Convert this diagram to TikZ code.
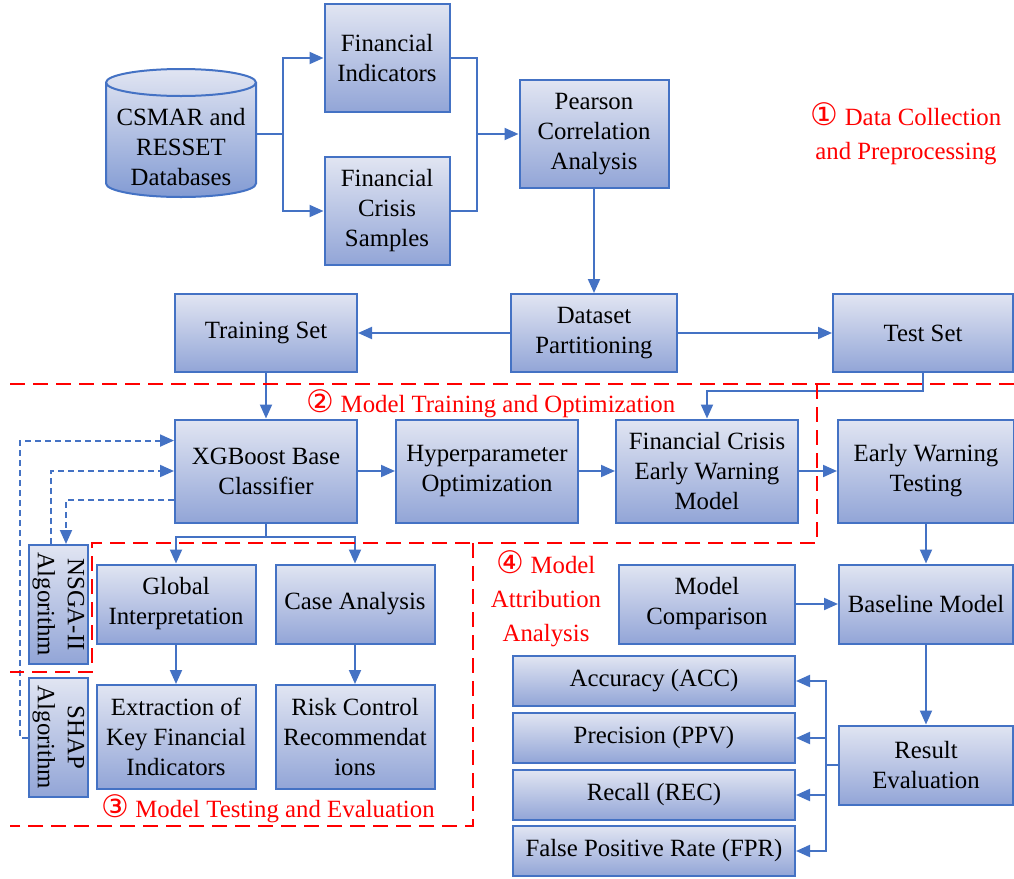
\documentclass[tikz,border=0pt]{standalone}
\usepackage{fontspec}
\setmainfont{Liberation Serif}
\newfontfamily\circfont{DejaVu Sans}
\usetikzlibrary{arrows.meta,calc,positioning}
\usetikzlibrary{shapes.geometric}
\definecolor{boxline}{HTML}{4472C4}
\definecolor{boxtop}{HTML}{E1E5F2}
\definecolor{boxbot}{HTML}{92A5D7}
\newcommand{\regnum}[1]{{\circfont\fontsize{15.5}{15}\selectfont #1}}
\tikzstyle{process} = [rectangle, align=center, draw=boxline, line width=1pt, top color=boxtop, bottom color=boxbot, inner sep=1pt, font=\fontsize{12.4}{15}\selectfont]
\tikzstyle{database} = [cylinder, shape border rotate=90, aspect=0.18, draw=boxline, line width=1pt, top color=boxtop, bottom color=boxbot!80!boxline, inner xsep=37.5pt, inner ysep=2pt]
\tikzstyle{vprocess} = [process, rotate=-90, minimum width=59.5pt, minimum height=29.5pt]
\tikzstyle{line} = [draw=boxline, line width=1pt]
\tikzstyle{arrow} = [line, -{Triangle[length=7pt,width=6pt]}]
\tikzstyle{dasharrow} = [arrow, dash pattern=on 3pt off 2pt]
\tikzstyle{region} = [draw=red, line width=1pt, dash pattern=on 7.5pt off 4pt]
\tikzstyle{regionlabel} = [text=red, align=center, font=\fontsize{12.4}{17}\selectfont]

\begin{document}
\begin{tikzpicture}[x=0.5pt, y=-0.5pt]
\useasboundingbox (0,0) rectangle (1014,879);
% data collection
\node (db) [database, minimum height=64pt,
  label={[align=center, font=\fontsize{12.4}{15}\selectfont]center:CSMAR and\\RESSET\\Databases}] at (181,147) {};
\node (fi) [process, minimum width=62.5pt, minimum height=54pt] at (387,58) {Financial\\Indicators};
\node (fcs) [process, minimum width=62.5pt, minimum height=54pt] at (387,211) {Financial\\Crisis\\Samples};
\node (pca) [process, minimum width=74.5pt, minimum height=54pt] at (594,134) {Pearson\\Correlation\\Analysis};
\node (dp) [process, minimum width=83pt, minimum height=39pt] at (594,333) {Dataset\\Partitioning};
\node (train) [process, minimum width=91pt, minimum height=39pt] at (266,333) {Training Set};
\node (test) [process, minimum width=90pt, minimum height=39pt] at (923,333) {Test Set};
% training and optimization
\node (xgb) [process, minimum width=91pt, minimum height=51.5pt] at (266,471) {XGBoost Base\\Classifier};
\node (hpo) [process, minimum width=91pt, minimum height=51.5pt] at (487,471) {Hyperparameter\\Optimization};
\node (fcew) [process, minimum width=91pt, minimum height=51.5pt] at (707,471) {Financial Crisis\\Early Warning\\Model};
\node (ewt) [process, minimum width=88pt, minimum height=51.5pt] at (926,471) {Early Warning\\Testing};
\node (nsga) [vprocess] at (58.5,604.5) {NSGA-II\\Algorithm};
\node (shap) [vprocess] at (58.5,737.5) {SHAP\\Algorithm};
% testing and attribution
\node (gi) [process, minimum width=79.5pt, minimum height=39.5pt] at (176,604) {Global\\Interpretation};
\node (ca) [process, minimum width=79.5pt, minimum height=39.5pt] at (355,604) {Case Analysis};
\node (ekfi) [process, minimum width=79.5pt, minimum height=52pt] at (176,737) {Extraction of\\Key Financial\\Indicators};
\node (rcr) [process, minimum width=79.5pt, minimum height=52pt] at (355,737) {Risk Control\\Recommendat\\ions};
\node (mc) [process, minimum width=88pt, minimum height=39.5pt] at (707,604) {Model\\Comparison};
\node (bm) [process, minimum width=87pt, minimum height=39.5pt] at (926,604) {Baseline Model};
\node (re) [process, minimum width=87pt, minimum height=39.5pt] at (926,765) {Result\\Evaluation};
\node (acc) [process, minimum width=141pt, minimum height=25pt] at (654,681) {Accuracy (ACC)};
\node (ppv) [process, minimum width=141pt, minimum height=25pt] at (654,738) {Precision (PPV)};
\node (rec) [process, minimum width=141pt, minimum height=25pt] at (654,795) {Recall (REC)};
\node (fpr) [process, minimum width=141pt, minimum height=25pt] at (654,851) {False Positive Rate (FPR)};
% region labels
\node (lab1) [regionlabel] at (906,134) {\regnum{①} Data Collection\\and Preprocessing};
\node (lab2) [regionlabel] at (491,404) {\regnum{②} Model Training and Optimization};
\node (lab3) [regionlabel] at (268,809) {\regnum{③} Model Testing and Evaluation};
\node (lab4) [regionlabel] at (546,599) {\regnum{④} Model\\Attribution\\Analysis};

\coordinate (split1) at (283,134);
\coordinate (merge1) at (477,134);
\coordinate (split2) at (266,537);
\coordinate (fork) at (826,765);

\draw [line] (split1 -| db.east) -- (split1);
\draw [arrow] (split1) |- (fi);
\draw [arrow] (split1) |- (fcs);
\draw [line] (fi.east) -| (merge1);
\draw [line] (fcs.east) -| (merge1);
\draw [arrow] (merge1) -- (pca);
\draw [arrow] (pca) -- (dp);
\draw [arrow] (dp) -- (train);
\draw [arrow] (dp) -- (test);
\draw [arrow] (train) -- (xgb);
\draw [arrow] (xgb) -- (hpo);
\draw [arrow] (hpo) -- (fcew);
\draw [arrow] (fcew) -- (ewt);
\draw [arrow] (test.south) -- ++(0,18) -| (fcew.north);
\draw [line] (xgb) -- (split2);
\draw [arrow] (split2) -| (gi);
\draw [arrow] (split2) -| (ca);
\draw [arrow] (gi) -- (ekfi);
\draw [arrow] (ca) -- (rcr);
\draw [arrow] (ewt) -- (bm);
\draw [arrow] (mc) -- (bm);
\draw [arrow] (bm) -- (re);
\draw [line] (re) -- (fork);
\foreach \m in {acc,ppv,rec,fpr}
  \draw [arrow] (fork) |- (\m.east);
% algorithm feedback
\draw [dasharrow] (shap.south) -- ++(-8,0) |- ($(xgb.north west)!0.21!(xgb.south west)$);
\draw [dasharrow] ($(nsga.west)+(-7.5,0)$) |- (xgb.west);
\draw [dasharrow] ($(xgb.north west)!0.78!(xgb.south west)$) -| ($(nsga.west)+(7.5,0)$);
% regions
\draw [region] (10,384) -- (1014,384);
\draw [region] (817,384) -- (817,543) -- (92,543) -- (92,672) -- (10,672);
\draw [region] (473,543) -- (473,826) -- (10,826);
\end{tikzpicture}
\end{document}
